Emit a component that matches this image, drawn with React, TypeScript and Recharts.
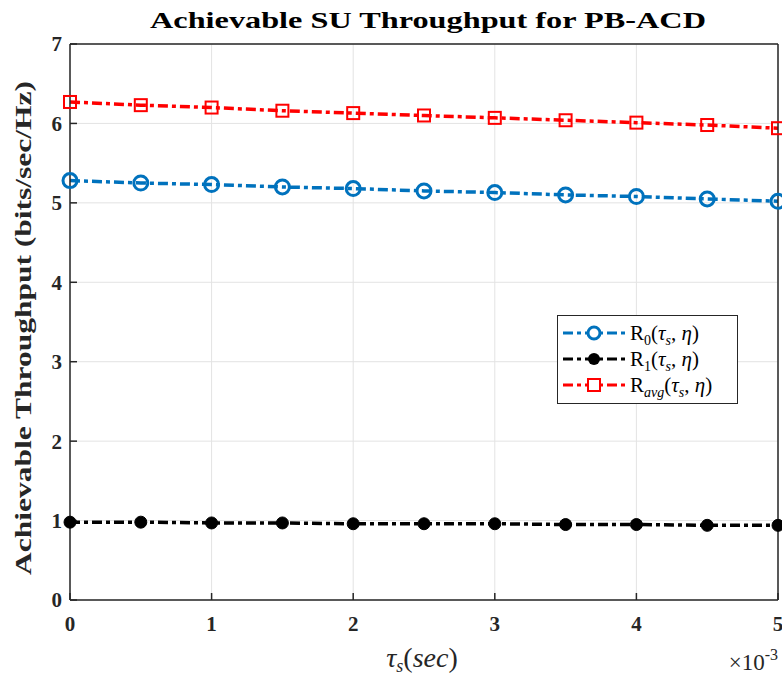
import { LineChart, Line, XAxis, YAxis, CartesianGrid, Customized } from "recharts";

// tau_s in units of 1e-3 sec
const tau = [0, 0.5, 1, 1.5, 2, 2.5, 3, 3.5, 4, 4.5, 5];
const r0 = [5.28, 5.25, 5.23, 5.2, 5.18, 5.15, 5.13, 5.1, 5.08, 5.05, 5.02];
const r1 = [0.98, 0.98, 0.97, 0.97, 0.96, 0.96, 0.96, 0.95, 0.95, 0.94, 0.94];
const ravg = [6.27, 6.23, 6.2, 6.16, 6.13, 6.1, 6.07, 6.04, 6.01, 5.98, 5.94];
const xTicks = [0, 1, 2, 3, 4, 5];
const yTicks = [0, 1, 2, 3, 4, 5, 6, 7];

const data = tau.map((t, i) => ({ tau: t, r0: r0[i], r1: r1[i], ravg: ravg[i] }));

const FONT = "'Liberation Serif', 'DejaVu Serif', serif";
const AXIS = "#262626";
const DASH = "10 4 4 4";

const tickStyle = { fontFamily: FONT, fontSize: 21, fontWeight: 700, fill: AXIS };

const circleDot = (p: any) => (
  <circle key={"c" + p.index} cx={p.cx} cy={p.cy} r={7} fill="none" stroke="#0072BD" strokeWidth={3} />
);
const filledDot = (p: any) => (
  <circle key={"f" + p.index} cx={p.cx} cy={p.cy} r={6} fill="#000" stroke="#000" strokeWidth={1} />
);
const squareDot = (p: any) => (
  <rect key={"s" + p.index} x={p.cx - 6} y={p.cy - 6} width={12} height={12} fill="none" stroke="#FF0000" strokeWidth={2} />
);

const legendItems = [
  { color: "#0072BD", marker: "circle", sub: "0" },
  { color: "#000", marker: "filled", sub: "1" },
  { color: "#FF0000", marker: "square", sub: "avg" },
];

function LegendBox() {
  return (
    <div
      style={{
        position: "absolute",
        left: 557,
        top: 315,
        width: 181,
        height: 89,
        border: "1.5px solid #262626",
        background: "#fff",
        fontFamily: FONT,
        fontSize: 21,
        boxSizing: "border-box",
        paddingTop: 4,
      }}
    >
      {legendItems.map((it) => (
        <div key={it.sub} style={{ display: "flex", alignItems: "center", height: 26 }}>
          <svg width={72} height={26} style={{ flex: "none" }}>
            <line x1={5} x2={70} y1={13} y2={13} stroke={it.color} strokeWidth={3} strokeDasharray={DASH} />
            {it.marker === "circle" && <circle cx={36} cy={13} r={6} fill="#fff" stroke={it.color} strokeWidth={3} />}
            {it.marker === "filled" && <circle cx={36} cy={13} r={6} fill="#000" />}
            {it.marker === "square" && <rect x={30} y={7} width={12} height={12} fill="#fff" stroke={it.color} strokeWidth={2} />}
          </svg>
          <span style={{ whiteSpace: "nowrap", color: "#000", lineHeight: "26px" }}>
            R<sub style={{ fontSize: 14, fontStyle: it.sub === "avg" ? "italic" : "normal", lineHeight: 0 }}>{it.sub}</sub>(<i>τ</i>
            <sub style={{ fontSize: 14, fontStyle: "italic", lineHeight: 0 }}>s</sub>, <i>η</i>)
          </span>
        </div>
      ))}
    </div>
  );
}

function Texts() {
  return (
    <g>
      <text x={428} y={28} textAnchor="middle" fontFamily={FONT} fontSize={23} fontWeight={700} textLength={556} lengthAdjust="spacingAndGlyphs" fill="#000">
        Achievable SU Throughput for PB-ACD
      </text>
      <text
        x={0}
        y={0}
        transform="translate(31,328) rotate(-90)"
        textAnchor="middle"
        fontFamily={FONT}
        fontSize={23}
        fontWeight={700}
        textLength={494}
        lengthAdjust="spacingAndGlyphs"
        fill={AXIS}
      >
        Achievable Throughput (bits/sec/Hz)
      </text>
      <text x={422} y={667} textAnchor="middle" fontFamily={FONT} fontSize={28} fill={AXIS}>
        <tspan fontStyle="italic">τ</tspan>
        <tspan fontStyle="italic" fontSize={18} dy={5}>s</tspan>
        <tspan dy={-5}>(</tspan>
        <tspan fontStyle="italic">sec</tspan>
        <tspan>)</tspan>
      </text>
      <text x={778} y={670} textAnchor="end" fontFamily={FONT} fontSize={23} fill={AXIS}>
        ×10<tspan fontSize={16} dy={-10}>-3</tspan>
      </text>
    </g>
  );
}

export default function App() {
  return (
    <div style={{ position: "absolute", left: 0, top: 0, width: 782, height: 675, background: "#fff" }}>
      <LineChart width={782} height={675} data={data} margin={{ top: 43, right: 3, bottom: 45, left: 10 }}>
        <CartesianGrid stroke="#e3e3e3" strokeWidth={1} />
        <XAxis
          type="number"
          dataKey="tau"
          domain={[0, 5]}
          ticks={xTicks}
          height={30}
          stroke={AXIS}
          strokeWidth={1.5}
          tickSize={-7}
          tickMargin={23}
          tick={tickStyle}
          interval={0}
        />
        <XAxis xAxisId="top" orientation="top" type="number" dataKey="tau" domain={[0, 5]} ticks={xTicks} height={1} stroke={AXIS} strokeWidth={1.5} tickSize={-7} tick={false} />
        <YAxis type="number" domain={[0, 7]} ticks={yTicks} width={60} stroke={AXIS} strokeWidth={1.5} tickSize={-7} tickMargin={15} tick={tickStyle} interval={0} />
        <YAxis yAxisId="right" orientation="right" type="number" domain={[0, 7]} ticks={yTicks} width={1} stroke={AXIS} strokeWidth={1.5} tickSize={-7} tick={false} />
        <Line dataKey="r0" stroke="#0072BD" strokeWidth={3.5} strokeDasharray={DASH} dot={circleDot} isAnimationActive={false} />
        <Line dataKey="r1" stroke="#000" strokeWidth={3.5} strokeDasharray={DASH} dot={filledDot} isAnimationActive={false} />
        <Line dataKey="ravg" stroke="#FF0000" strokeWidth={3.5} strokeDasharray={DASH} dot={squareDot} isAnimationActive={false} />
        <Customized component={Texts} />
      </LineChart>
      <LegendBox />
    </div>
  );
}
